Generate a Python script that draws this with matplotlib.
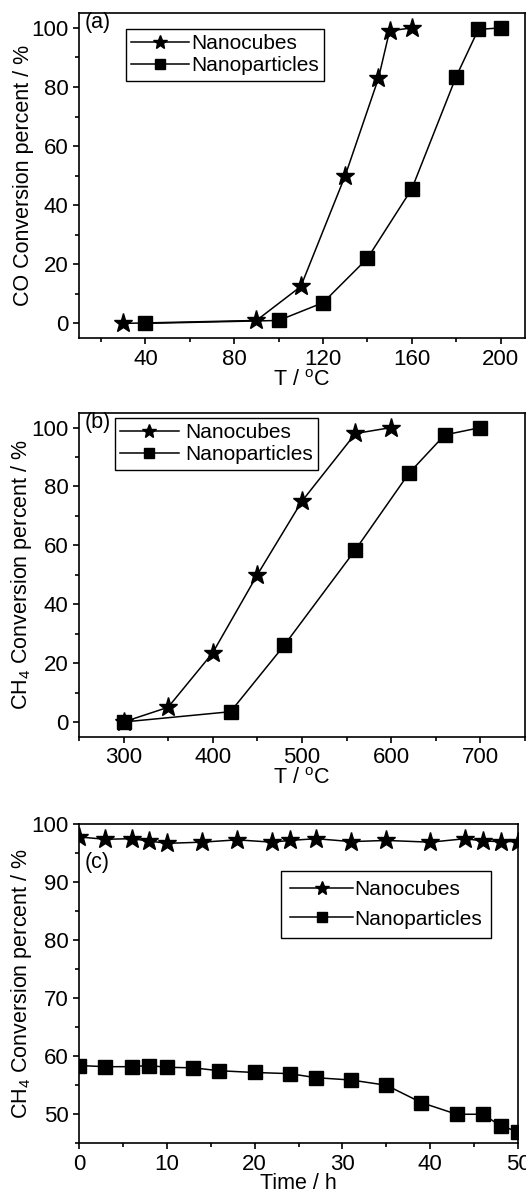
import numpy as np
import matplotlib
matplotlib.use('Agg')
import matplotlib.pyplot as plt
from matplotlib.ticker import MultipleLocator

plt.rcParams['font.family'] = ['Liberation Sans', 'DejaVu Sans']
plt.rcParams['mathtext.fontset'] = 'custom'
plt.rcParams['mathtext.rm'] = 'Liberation Sans'
plt.rcParams['mathtext.it'] = 'Liberation Sans'

# (a) CO oxidation
a_cube_T = [30, 90, 110, 130, 145, 150, 160]
a_cube_y = [0, 1, 12.5, 50, 83, 99, 100]
a_part_T = [40, 100, 120, 140, 160, 180, 190, 200]
a_part_y = [0, 1, 7, 22, 45.5, 83.5, 99.5, 100]

# (b) CH4 combustion
b_cube_T = [300, 350, 400, 450, 500, 560, 600]
b_cube_y = [0, 5, 23.5, 50, 75, 98, 100]
b_part_T = [300, 420, 480, 560, 620, 660, 700]
b_part_y = [0, 3.5, 26, 58.5, 84.5, 97.5, 100]

# (c) stability
c_cube_t = [0, 3, 6, 8, 10, 14, 18, 22, 24, 27, 31, 35, 40, 44, 46, 48, 50]
c_cube_y = [97.8, 97.4, 97.5, 97.1, 96.7, 96.9, 97.3, 96.9, 97.2, 97.5, 97.0, 97.2, 96.9, 97.5, 97.1, 97.0, 97.0]
c_part_t = [0, 3, 6, 8, 10, 13, 16, 20, 24, 27, 31, 35, 39, 43, 46, 48, 50]
c_part_y = [58.4, 58.2, 58.2, 58.4, 58.1, 58.0, 57.5, 57.2, 57.0, 56.3, 55.9, 55.0, 52.0, 50.0, 50.0, 48.0, 47.0]

fig = plt.figure(figsize=(5.26, 11.95), dpi=100)

FS_TICK = 16
FS_LAB = 15.5
FS_LEG = 15

def style(ax, xmaj, xmin, ymaj, ymin):
    ax.xaxis.set_major_locator(MultipleLocator(xmaj))
    ax.xaxis.set_minor_locator(MultipleLocator(xmin))
    ax.yaxis.set_major_locator(MultipleLocator(ymaj))
    ax.yaxis.set_minor_locator(MultipleLocator(ymin))
    ax.tick_params(which='both', direction='out', top=False, right=False, labelsize=FS_TICK, width=1.2)
    ax.tick_params(which='major', length=4.5, pad=3)
    ax.tick_params(which='minor', length=3)
    for s in ax.spines.values():
        s.set_linewidth(1.2)

def draw(ax, x1, y1, x2, y2):
    ax.plot(x1, y1, '-', color='black', marker='*', markersize=14, lw=1.1, label='Nanocubes')
    ax.plot(x2, y2, '-', color='black', marker='s', markersize=9.5, lw=1.1, label='Nanoparticles')

def legend(ax, anchor, pad, spacing, hlen, tpad):
    leg = ax.legend(loc='upper left', bbox_to_anchor=anchor, borderaxespad=0, fontsize=FS_LEG,
                    fancybox=False, edgecolor='black', framealpha=1, handlelength=hlen, numpoints=1,
                    handletextpad=tpad, borderpad=pad, labelspacing=spacing, markerscale=0.75)
    leg.get_frame().set_linewidth(1.0)

# 画图 (a)
ax1 = fig.add_axes([0.150, 0.717, 0.848, 0.272])
draw(ax1, a_cube_T, a_cube_y, a_part_T, a_part_y)
ax1.set_xlim(10, 211)
ax1.set_ylim(-5, 105)
style(ax1, 40, 20, 20, 10)
ax1.set_xlabel('T / $^{\\rm o}$C', fontsize=FS_LAB, labelpad=0)
ax1.set_ylabel('CO Conversion percent / %', fontsize=FS_LAB, labelpad=-2)
ax1.text(0.012, 0.97, '(a)', transform=ax1.transAxes, fontsize=FS_LAB, ha='left', va='center')
legend(ax1, (0.105, 0.951), 0.25, 0.15, 2.8, 0.1)

# 画图 (b)
ax2 = fig.add_axes([0.150, 0.3835, 0.848, 0.271])
draw(ax2, b_cube_T, b_cube_y, b_part_T, b_part_y)
ax2.set_xlim(250, 750)
ax2.set_ylim(-5, 105)
style(ax2, 100, 50, 20, 10)
ax2.set_xlabel('T / $^{\\rm o}$C', fontsize=FS_LAB, labelpad=0)
ax2.set_ylabel('CH$_4$ Conversion percent / %', fontsize=FS_LAB, labelpad=-2)
ax2.text(0.012, 0.97, '(b)', transform=ax2.transAxes, fontsize=FS_LAB, ha='left', va='center')
legend(ax2, (0.081, 0.984), 0.25, 0.15, 2.8, 0.3)

# 画图 (c)
ax3 = fig.add_axes([0.150, 0.0433, 0.835, 0.267])
draw(ax3, c_cube_t, c_cube_y, c_part_t, c_part_y)
ax3.set_xlim(0, 50)
ax3.set_ylim(45, 100)
style(ax3, 10, 5, 10, 5)
ax3.set_xlabel('Time / h', fontsize=FS_LAB, labelpad=-1)
ax3.set_ylabel('CH$_4$ Conversion percent / %', fontsize=FS_LAB, labelpad=-2)
ax3.text(0.012, 0.88, '(c)', transform=ax3.transAxes, fontsize=FS_LAB, ha='left', va='center')
legend(ax3, (0.46, 0.854), 0.45, 0.5, 3.0, 0.05)

plt.savefig('out.png', dpi=100)
